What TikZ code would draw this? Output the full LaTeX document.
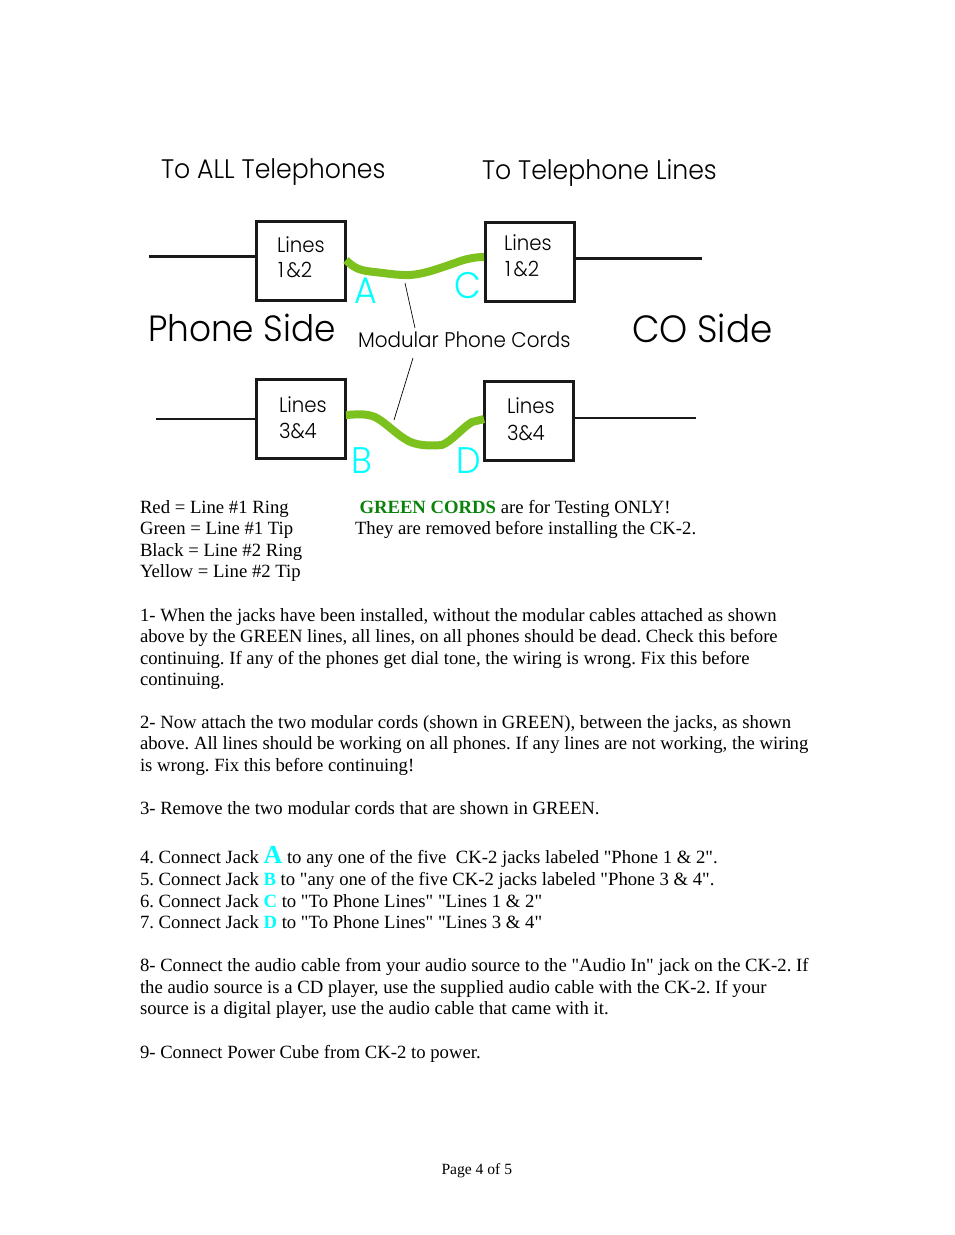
\documentclass[tikz,border=0pt]{standalone}
\usepackage{fontspec}
\setmainfont{Liberation Serif}[Ligatures=TeXOff]
\newfontfamily\geo{Poppins Light}[FakeStretch=0.94]
\definecolor{cordgreen}{HTML}{7DC11F}
\definecolor{jackcyan}{HTML}{00FFFF}
\definecolor{txtgreen}{HTML}{0B820B}
\newcommand{\jk}[1]{\textbf{\textcolor{jackcyan}{#1}}}
\tikzset{
 every node/.style={inner sep=0pt,outer sep=0pt},
 body/.style={anchor=base west,font=\frenchspacing\fontsize{18.7}{21.5}\selectfont,text=black},
 head/.style={anchor=base west,font=\geo\fontsize{26.8}{30}\selectfont,text=black},
 side/.style={anchor=base west,font=\geo\fontsize{36.5}{40}\selectfont,text=black},
 sideco/.style={anchor=base west,font=\geo\fontsize{38}{40}\selectfont,text=black},
 mod/.style={anchor=base west,font=\geo\fontsize{21.2}{24}\selectfont,text=black},
 boxlab/.style={anchor=base west,font=\geo\fontsize{21}{24}\selectfont,text=black},
 jacklet/.style={anchor=base west,font=\geo\fontsize{37}{40}\selectfont,text=jackcyan},
 jackbox/.style={draw=black!90,line width=3pt,minimum width=89pt,minimum height=79pt},
 stub/.style={draw=black!90,line width=2.6pt},
 cord/.style={draw=cordgreen,line width=8pt,line join=round},
 leader/.style={draw=black,line width=0.7pt}
}
\begin{document}
\begin{tikzpicture}[x=1pt,y=-1pt]
\useasboundingbox (0,0) rectangle (954,1235);
\node[head] (h1) at (161,178) {To ALL Telephones};
\node[head] (h2) at (482,179) {To Telephone Lines};
\node[jackbox] (b1) at (301.3,260.5) {};
\node[jackbox] (b2) at (529.6,262) {};
\node[jackbox] (b3) at (301,418.5) {};
\node[jackbox] (b4) at (529,421) {};
\node[boxlab] (l1a) at (277,252) {Lines};
\node[boxlab] (l1b) at (278,277) {1\kern3pt\&2};
\node[boxlab] (l2a) at (504,250) {Lines};
\node[boxlab] (l2b) at (505,276) {1\kern3pt\&2};
\node[boxlab] (l3a) at (279,412) {Lines};
\node[boxlab] (l3b) at (279,438) {3\&4};
\node[boxlab] (l4a) at (507,413) {Lines};
\node[boxlab] (l4b) at (507,440) {3\&4};
\coordinate (s1) at (149,256.7);
\coordinate (s2) at (702,258.5);
\coordinate (s3) at (156,419);
\coordinate (s4) at (696,418);
\draw[stub] (s1) -- (s1 -| b1.west);
\draw[stub] (s2) -- (s2 -| b2.east);
\draw[stub] (s3) -- (s3 -| b3.west);
\draw[stub] (s4) -- (s4 -| b4.east);
\coordinate (c1) at (346,260);
\coordinate (c2) at (484,257);
\coordinate (c3) at (346,415);
\coordinate (c4) at (484,419);
\draw[cord] (c1) .. controls (353,267) and (358,270) .. (370,271.5) .. controls (385,273) and (398,275.5) .. (410,275) .. controls (425,274) and (440,268) .. (455,263) .. controls (465,259) and (475,257) .. (c2);
\draw[cord] (c3) .. controls (355,414.5) and (365,413) .. (375,417) .. controls (385,422) and (395,433) .. (405,439) .. controls (415,446) and (430,446) .. (442,445) .. controls (452,441) and (462,428) .. (472,422) -- (c4);
\node[side] (ps) at (148,341) {Phone Side};
\node[sideco] (cs) at (632,342) {CO Side};
\node[mod] (mc) at (358,347.5) {Modular Phone Cords};
\coordinate (m1) at (405,283);
\coordinate (m2) at (415,328);
\coordinate (m3) at (413,358);
\coordinate (m4) at (394,420);
\draw[leader] (m1) -- (m2);
\draw[leader] (m3) -- (m4);
\node[jacklet] (ja) at (354,303) {A};
\node[jacklet] (jc) at (454,298) {C};
\node[jacklet] (jb) at (351,473) {B};
\node[jacklet] (jd) at (456,473) {D};
\node[body] (k1) at (140,513.4) {Red = Line \#1 Ring};
\node[body] (k2) at (140,534.9) {Green = Line \#1 Tip};
\node[body] (k3) at (140,556.4) {Black = Line \#2 Ring};
\node[body] (k4) at (140,577.9) {Yellow = Line \#2 Tip};
\node[body] (g1) at (359.5,513.4) {\textbf{\textcolor{txtgreen}{GREEN CORDS}} are for Testing ONLY!};
\node[body] (g2) at (355,534.9) {They are removed before installing the CK-2.};
\node[body] (a1) at (140,621.2) {1- When the jacks have been installed, without the modular cables attached as shown};
\node[body] (a2) at (140,642.7) {above by the GREEN lines, all lines, on all phones should be dead. Check this before};
\node[body] (a3) at (140,664.2) {continuing. If any of the phones get dial tone, the wiring is wrong. Fix this before};
\node[body] (a4) at (140,685.7) {continuing.};
\node[body] (b21) at (140,728) {2- Now attach the two modular cords (shown in GREEN), between the jacks, as shown};
\node[body] (b22) at (140,749.5) {above. All lines should be working on all phones. If any lines are not working, the wiring};
\node[body] (b23) at (140,771) {is wrong. Fix this before continuing!};
\node[body] (c31) at (140,814) {3- Remove the two modular cords that are shown in GREEN.};
\node[body] (d4) at (140,863.3) {4. Connect Jack {\fontsize{26}{26}\selectfont\jk{A}} to any one of the five\ \ CK-2 jacks labeled "Phone 1 \& 2".};
\node[body] (d5) at (140,885.3) {5. Connect Jack \jk{B} to "any one of the five CK-2 jacks labeled "Phone 3 \& 4".};
\node[body] (d6) at (140,907) {6. Connect Jack \jk{C} to "To Phone Lines" "Lines 1 \& 2"};
\node[body] (d7) at (140,928.6) {7. Connect Jack \jk{D} to "To Phone Lines" "Lines 3 \& 4"};
\node[body] (e1) at (140,971.7) {8- Connect the audio cable from your audio source to the "Audio In" jack on the CK-2. If};
\node[body] (e2) at (140,993.2) {the audio source is a CD player, use the supplied audio cable with the CK-2. If your};
\node[body] (e3) at (140,1014.7) {source is a digital player, use the audio cable that came with it.};
\node[body] (f1) at (140,1058.2) {9- Connect Power Cube from CK-2 to power.};
\node[anchor=base west,font=\fontsize{15.6}{18}\selectfont] (pg) at (441.5,1174) {Page 4 of 5};
\end{tikzpicture}
\end{document}
